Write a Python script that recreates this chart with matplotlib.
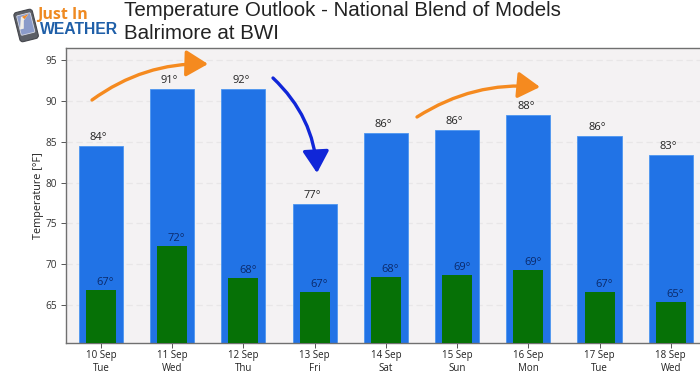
#!/usr/bin/env python3
import matplotlib
matplotlib.use('Agg')
import numpy as np
import matplotlib.pyplot as plt
from matplotlib.patches import FancyBboxPatch, Polygon
from matplotlib.transforms import Affine2D

dates = ['10 Sep\nTue', '11 Sep\nWed', '12 Sep\nThu', '13 Sep\nFri', '14 Sep\nSat',
         '15 Sep\nSun', '16 Sep\nMon', '17 Sep\nTue', '18 Sep\nWed']
highs = [84.46, 91.44, 91.44, 77.4, 86.1, 86.4, 88.25, 85.65, 83.4]
lows = [66.87, 72.2, 68.3, 66.6, 68.4, 68.7, 69.3, 66.55, 65.4]
high_labels = ['84°', '91°', '92°', '77°', '86°', '86°', '88°', '86°', '83°']
low_labels = ['67°', '72°', '68°', '67°', '68°', '69°', '69°', '67°', '65°']
yticks = [65, 70, 75, 80, 85, 90, 95]

W, H = 700, 376


def px_axes(fig, left, top, right, bottom):
    return fig.add_axes([left / W, 1 - bottom / H, (right - left) / W, (bottom - top) / H])


def draw_arrow(ax, start, end, color, rad):
    ax.annotate('', xy=(end[0], H - end[1]), xytext=(start[0], H - start[1]),
                xycoords='figure pixels', textcoords='figure pixels', annotation_clip=False,
                arrowprops=dict(arrowstyle='-|>,head_length=0.75,head_width=0.45', color=color,
                                lw=2.4, mutation_scale=18, shrinkA=0, shrinkB=0,
                                connectionstyle=f'arc3,rad={rad}'), zorder=6)


def draw_logo(fig):
    ax = fig.add_axes([0, 0, 1, 1], zorder=5)
    ax.set_xlim(0, W)
    ax.set_ylim(H, 0)
    ax.axis('off')
    rot = Affine2D().rotate_deg_around(26, 25, -14) + ax.transData
    ax.add_patch(FancyBboxPatch((18, 12), 16, 27, boxstyle='round,pad=1.5,rounding_size=3',
                                fc='#5c5f66', ec='#44464c', lw=0.8, transform=rot))
    ax.add_patch(FancyBboxPatch((19, 14), 14, 20, boxstyle='round,pad=0,rounding_size=1',
                                fc='#8b9bc9', ec='#d8dbe6', lw=0.6, transform=rot))
    ax.add_patch(Polygon([(19, 28), (23, 16), (31, 15), (25, 20), (23, 28)],
                         fc='#f0ede8', ec='none', transform=rot))
    ax.add_patch(Polygon([(24, 16), (31, 15), (26, 19)], fc='#ee8a2c', ec='none', transform=rot))
    ax.text(37, 14.5, 'Just In', family='Open Sans', fontsize=11.5, weight='bold',
            color='#ef8a22', va='center', ha='left')
    ax.text(39.5, 30, 'WEATHER', family='Liberation Sans', fontsize=11.3, weight='bold',
            color='#1f5fa8', va='center', ha='left')


def main():
    plt.rcParams['font.family'] = ['Open Sans', 'DejaVu Sans']
    fig = plt.figure(figsize=(W / 100, H / 100), dpi=100)
    ax = px_axes(fig, 66, 48, 700, 343)
    x = np.arange(len(dates))

    ax.set_facecolor('#f4f2f3')
    ax.grid(axis='y', color='#e8e6e7', ls=(0, (5, 3)), lw=0.9, zorder=1)
    ax.set_axisbelow(True)
    ax.bar(x, highs, width=0.62, bottom=0, color='#2173e6', edgecolor='#4d96f0', lw=0.6, zorder=2)
    ax.bar(x, lows, width=0.42, bottom=0, color='#067106', zorder=3)

    for i in x:
        ax.annotate(high_labels[i], (i, highs[i]), xytext=(-2.5, 3), textcoords='offset pixels',
                    ha='center', va='bottom', fontsize=8, color='#222222', zorder=4)
        ax.annotate(low_labels[i], (i, lows[i]), xytext=(4.5, 2), textcoords='offset pixels',
                    ha='center', va='bottom', fontsize=8, color='#0b2a6b', zorder=4)

    ax.set_xlim(-0.49, 8.41)
    ax.set_ylim(60.35, 96.47)
    ax.set_xticks(x)
    ax.set_xticklabels(dates, fontsize=7, color='#222222', linespacing=1.25)
    ax.set_yticks(yticks)
    ax.tick_params(axis='y', labelsize=7.3, labelcolor='#333333', color='#555555', length=3.5, width=0.7, pad=3)
    ax.tick_params(axis='x', color='#555555', length=3.5, width=0.7, pad=1.5)
    ax.set_ylabel('Temperature [°F]', fontsize=7.8, color='#222222', labelpad=1)
    for side in ['top', 'left', 'bottom']:
        ax.spines[side].set_color('#707070')
        ax.spines[side].set_linewidth(1.0)
    ax.spines['right'].set_visible(False)

    draw_arrow(ax, (92, 100), (208, 64), '#f58a1f', -0.17)
    draw_arrow(ax, (273, 78), (317, 173), '#1026d8', -0.2)
    draw_arrow(ax, (417, 117), (540, 87), '#f58a1f', -0.17)

    fig.text(124 / W, 1 - 10 / H, 'Temperature Outlook - National Blend of Models',
             family='Liberation Sans', fontsize=14.75, color='#222222', va='center', ha='left')
    fig.text(124 / W, 1 - 33.5 / H, 'Balrimore at BWI',
             family='Liberation Sans', fontsize=14.75, color='#222222', va='center', ha='left')
    draw_logo(fig)

    fig.savefig('out.png', dpi=100)


if __name__ == '__main__':
    main()
